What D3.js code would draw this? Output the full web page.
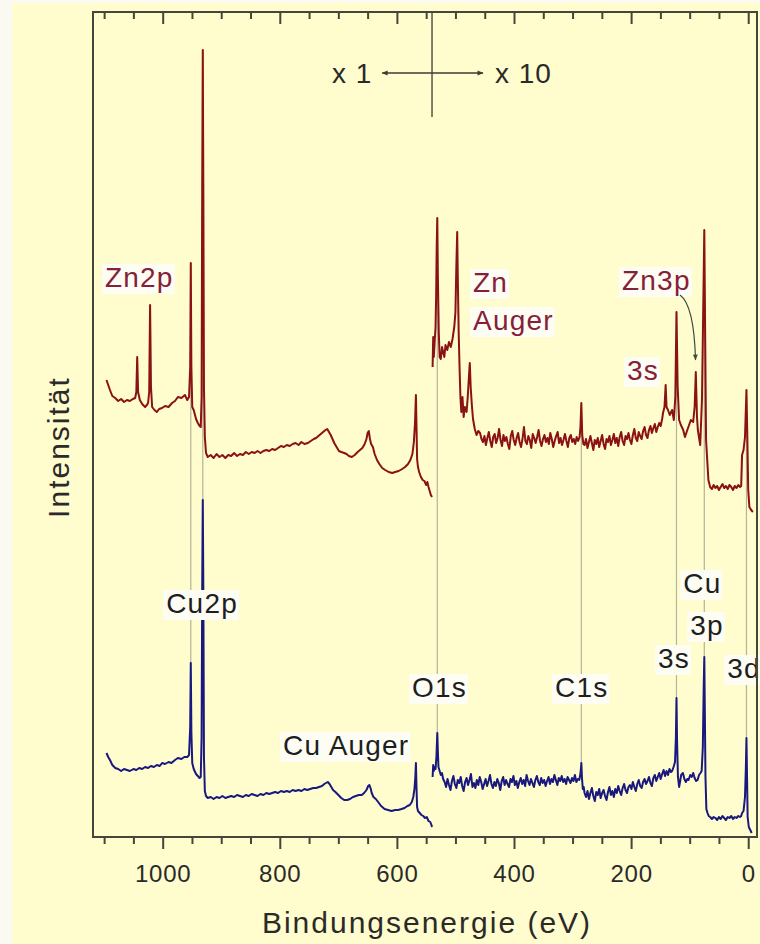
<!DOCTYPE html>
<html><head><meta charset="utf-8">
<script src="https://cdn.jsdelivr.net/npm/d3@7/dist/d3.min.js"></script>
<style>
html,body{margin:0;padding:0;background:#fafaf2;}
svg{display:block;}
text{font-family:"Liberation Sans",Arial,Helvetica,sans-serif;}
</style></head><body>
<svg id="chart" width="760" height="944"></svg>
<script>
// ---------- axis ticks (binding energy, eV) ----------
const majorTicks = [0, 200, 400, 600, 800, 1000];
const minorTicks = [50, 100, 150, 250, 300, 350, 450, 500, 550, 650, 700, 750, 850, 900, 950, 1050, 1100];

// ---------- upper spectrum (Zn containing sample), x1 part: [eV, intensity] ----------
const znX1 = [[1096,457],[1093,452],[1090,447],[1086,441],[1081,439],[1076,436],[1071,438],[1066,435],[1061,437],[1056,436],[1051,438],[1047,439],[1045,445],[1043.5,480],[1042,445],[1039,437],[1035,433],[1030,430],[1027,432],[1025,434],[1023,445],[1021.5,532],[1020,450],[1018,430],[1014,427],[1010,425],[1006,428],[1001,429],[996,431],[990,430],[984,434],[979,436],[974,440],[968,439],[962,442],[958,437],[955,440],[953,470],[952,574],[951,470],[949.5,430],[947,427],[943,418],[940,414],[937,411],[935,410],[933.5,440],[932.5,650],[931.5,787],[930.5,640],[929.5,450],[928,400],[926,384],[923,380],[918,382],[913,379],[908,383],[903,380],[898,382],[893,379],[888,382],[883,381],[878,384],[873,381],[868,383],[863,382],[858,385],[853,383],[848,385],[843,384],[838,386],[833,384],[828,386],[823,387],[818,386],[813,388],[808,387],[803,389],[798,391],[793,390],[788,392],[783,391],[778,393],[773,394],[768,392],[763,395],[758,393],[752,394],[747,396],[742,398],[738,399],[734,401],[730,403],[726,405],[722,407],[719,408],[716,405],[713,402],[710,398],[707,394],[703,390],[699,386],[695,385],[690,384],[686,383],[682,381],[677,380],[672,382],[667,385],[663,387],[659,389],[655,393],[652,398],[650,404],[648,406],[646,398],[644,393],[641,390],[638,383],[634,377],[630,373],[625,369],[620,367],[614,365],[608,364],[603,365],[597,366],[591,368],[586,370],[581,373],[577,377],[573.5,383],[571,395],[569,415],[567.5,442],[566.5,410],[565.5,378],[564,370],[562,365],[559,360],[556,357],[553,356],[550,352],[548,355],[546,350],[544,346],[542,342],[540,340]];

// upper spectrum, x10 part
const znX10Head = [[539,470],[538,500],[537,480],[535.5,495],[534,510],[533,540],[532,590],[531,619],[530,560],[528.5,505],[527,480],[525,478],[523,490],[521,485],[519,480],[517,492],[514,487],[511,495],[508,490],[505,498],[502,510],[500,525],[498.5,570],[497,605],[496,560],[494.5,505],[493,470],[491.5,440],[490,425],[488,440],[486,420],[484,430],[481,425],[479,440],[477,460],[475.5,474],[474,450],[472,432],[470,418],[467,408],[464,402],[461,406]];
const znX10NoiseA = [404,398,395,401,392,399,405,396,390,400, 403,394,399,408,397,391,402,396,400,393, 388,401,406,397,392,399,404,395,390,398, 410,396,393,401,397,389,403,399,394,400, 407,396,391,398,402,395,399,393,404,398, 390,396,401,405,394,399,392,397,403,396, 390,399,402,395,398,393,400];
const znX10C1s = [[290.5,396],[288,400],[286.5,410],[285,434],[283.5,402],[281.5,393]];
const znX10NoiseB = [392,398,389,395,401,394,387,397,393,399, 390,396,402,393,388,398,395,401,392,397, 403,394,399,391,400,405,396,392,401,398, 404,397,393,402,408,399,396,405,401,398, 406,410,402,399,407,411,404,409,413,405, 410,414];
const znX10Tail = [[149.5,411],[147,418],[145.5,424],[143,430],[141,452],[139.5,430],[137,427],[134,422],[130,427],[127,417],[124.5,440],[122.5,525],[120.5,450],[118,417],[115,412],[111,407],[108,400],[104,407],[101,412],[98,417],[94,415],[91.5,430],[89.5,465],[87.5,420],[86,407],[82,392],[79,437],[77,520],[75,607],[73.5,500],[72,397],[68,357],[65,350],[62,348],[59,352],[56,349],[53,351],[50,347],[47,350],[44,353],[41,349],[38,351],[35,348],[32,352],[29,350],[26,347],[23,351],[20,349],[17,352],[14,350],[12,351],[10.5,382],[8,387],[5.5,400],[3,447],[1.5,400],[0,347],[-2,330],[-5,327],[-8,325]];

// ---------- lower spectrum (Cu reference), x1 part ----------
const cuX1 = [[1096,84],[1093,80],[1090,77],[1086,72],[1081,69],[1076,68],[1071,66],[1066,68],[1061,67],[1056,66],[1050,68],[1045,67],[1040,69],[1035,68],[1030,70],[1025,69],[1020,71],[1015,70],[1010,72],[1005,71],[1001,74],[996,73],[990,75],[985,74],[979,77],[974,79],[968,78],[963,80],[958,80],[955,82],[953,110],[952,174],[951,105],[949.5,74],[947,68],[943,63],[940,61],[937,59],[935,60],[933.5,100],[932.5,250],[931.5,337],[930.5,240],[929.5,80],[928,46],[926,41],[923,39],[918,40],[913,38],[908,40],[903,39],[898,41],[893,39],[888,40],[883,41],[878,40],[873,42],[868,41],[863,40],[858,42],[853,41],[848,43],[843,42],[838,41],[833,43],[828,42],[823,44],[818,43],[813,44],[808,45],[803,44],[798,46],[793,45],[788,46],[783,45],[778,47],[773,46],[768,47],[763,46],[758,48],[753,47],[748,48],[743,49],[738,49],[733,50],[728,51],[724,53],[721,54],[718,55],[715,53],[712,50],[709,47],[705,45],[700,42],[695,39],[690,37],[685,37],[680,38],[675,40],[670,41],[665,42],[660,42],[656,44],[652,47],[649,51],[647,52],[645,49],[643,44],[640,40],[636,38],[632,35],[627,31],[621,28],[615,27],[609,26],[603,27],[598,27],[592,28],[587,29],[582,31],[578,32],[574.5,35],[572,40],[570,48],[568.5,60],[567.5,74],[566.5,50],[565.5,30],[564,26],[561,24],[558,22],[555,21],[552,19],[549,20],[546,16],[543,15],[541,12],[540,10]];

// lower spectrum, x10 part
const cuX10Head = [[539,60],[538,72],[537,66],[535.5,70],[534,68],[532.5,80],[531,104],[530,85],[529,70],[527,66],[525,62],[523,64],[521,58]];
const cuX10NoiseA = [55,50,58,52,47,56,61,53,49,57, 54,60,51,46,55,59,52,57,63,50, 54,49,57,52,60,55,48,53,58,51, 56,62,53,49,55,51,58,54,47,56, 60,52,57,53,50,58,55,61,52,56, 49,55,59,53,57,51,62,56,52,58, 54,50,57,61,55,52,59,54,57,51, 56,60,53,58,55,62,57,52,59,56, 61,55,58,53,60,57,54,59,56,62, 55,58];
const cuX10C1s = [[288.5,57],[287,62],[286,66],[285,74],[284,60],[282.5,48],[281,50],[279.5,44]];
const cuX10NoiseB = [40,46,38,44,49,41,36,45,42,48, 39,44,47,41,37,45,50,42,46,40, 48,44,51,46,42,49,53,47,44,50, 52,48,55,50,46,53,57,51,49,55, 58,53,56,60,54,51,59,62,56,60, 64,58,63,67,61,66,62,68,65];
const cuX10Tail = [[130,66],[127.5,70],[125,75],[123.5,100],[122.5,139],[121.5,95],[120,60],[118,50],[116.5,55],[114.5,62],[111.5,64],[109,58],[106.5,55],[104,58],[102,57],[99,62],[96.5,60],[94,64],[91.5,59],[89,56],[86.5,57],[84,62],[81.5,64],[79.5,66],[77.5,90],[76,150],[75,180],[74,120],[73,60],[71.5,28],[69.5,24],[67.5,21],[65,20],[62,18],[59,20],[56,19],[53,17],[50,20],[47,18],[44,21],[41,19],[38,17],[35,20],[32,19],[29,21],[26,18],[23,20],[20,19],[17,21],[14,20],[12,21],[10.5,24],[8,26],[5.5,40],[4,70],[3,99],[2,60],[1,20],[-1,10],[-3.5,7],[-6,4]];

// energies of the noisy stretches: start energy, spacing of the spectrometer grid
const noiseGrid = { znA: [458, 2.5], znB: [279.5, 2.5], cuA: [518.5, 2.5], cuB: [277, 2.5] };

// guide lines linking the same peak in both spectra (eV)
const guideEnergies = [952, 931.5, 531, 285, 122.5, 75, 3];

// peak labels: [text, eV (left edge), intensity (baseline), colour group]
const peakLabels = [
  ["Zn2p", 1098.5, 550, "zn"], ["Zn", 470, 545, "zn"], ["Auger", 470, 507, "zn"],
  ["Zn3p", 215.5, 547, "zn"], ["3s", 207, 457, "zn"],
  ["Cu2p", 994, 224, "cu"], ["Cu Auger", 794.5, 82, "cu"], ["O1s", 574, 140, "cu"],
  ["C1s", 330, 140, "cu"], ["3s", 154, 169, "cu"], ["Cu", 111, 244, "cu"],
  ["3p", 99, 202, "cu"], ["3d", 36, 159, "cu"]
];
// scale change marker: boundary eV, arrow ends eV
const scaleSplit = 540, scaleArrowLeft = 625, scaleArrowRight = 453;

// ---------- drawing ----------
const svg = d3.select("#chart");
const W = 760, H = 944;
const plotL = 93, plotR = 757, plotT = 12, plotB = 837;
const x = d3.scaleLinear().domain([1119, -15]).range([plotL, plotR]);
const y = d3.scaleLinear().domain([0, 825]).range([plotB, plotT]);

const colZn = "#8a1212", colCu = "#18187e", frameCol = "#45463a";

svg.append("rect").attr("x", 12).attr("y", 3).attr("width", W - 12).attr("height", H - 3).attr("fill", "#fffccd");

const defs = svg.append("defs");
function arrowMarker(id, col) {
  defs.append("marker").attr("id", id).attr("viewBox", "0 0 10 10").attr("refX", 9).attr("refY", 5)
    .attr("markerWidth", 7).attr("markerHeight", 6).attr("orient", "auto-start-reverse")
    .attr("markerUnits", "userSpaceOnUse")
    .append("path").attr("d", "M0,1 L10,5 L0,9 Z").attr("fill", col);
}
arrowMarker("arr", "#3d3d36");
arrowMarker("arrG", "#3e4a3e");

const onGrid = (vals, g) => vals.map((v, i) => [g[0] - g[1] * i, v]);
const znTrace10 = [].concat(znX10Head, onGrid(znX10NoiseA, noiseGrid.znA), znX10C1s, onGrid(znX10NoiseB, noiseGrid.znB), znX10Tail);
const cuTrace10 = [].concat(cuX10Head, onGrid(cuX10NoiseA, noiseGrid.cuA), cuX10C1s, onGrid(cuX10NoiseB, noiseGrid.cuB), cuX10Tail);

// guide lines (beneath the traces)
const nearest = (arr, e) => arr.reduce((a, b) => Math.abs(b[0] - e) < Math.abs(a[0] - e) ? b : a);
const znAll = znX1.concat(znTrace10), cuAll = cuX1.concat(cuTrace10);
svg.append("g").selectAll("line").data(guideEnergies).join("line")
  .attr("x1", d => x(d)).attr("x2", d => x(d))
  .attr("y1", d => y(nearest(znAll, d)[1])).attr("y2", d => y(nearest(cuAll, d)[1]))
  .attr("stroke", "#b5b49c").attr("stroke-width", 1.2);

// spectra
const line = d3.line().x(d => x(d[0])).y(d => y(d[1]));
const traces = [[znX1, colZn], [znTrace10, colZn], [cuX1, colCu], [cuTrace10, colCu]];
svg.append("g").selectAll("path").data(traces).join("path")
  .attr("d", d => line(d[0])).attr("fill", "none").attr("stroke", d => d[1])
  .attr("stroke-width", 2).attr("stroke-linejoin", "round");

// labels with light boxes
const lg = svg.append("g");
peakLabels.forEach(([t, e, v, grp]) => {
  const g = lg.append("g");
  const txt = g.append("text").attr("x", x(e)).attr("y", y(v)).text(t)
    .attr("font-size", 28).attr("letter-spacing", 1.2)
    .attr("fill", grp === "zn" ? "#862038" : "#1e1e1e");
  const b = txt.node().getBBox();
  g.insert("rect", "text").attr("x", b.x - 3).attr("y", b.y + 2).attr("width", b.width + 4).attr("height", b.height - 1)
    .attr("fill", "#fdfdf4");
});

// Zn3p arrow
const zp = d3.path();
zp.moveTo(x(116.5), y(542));
zp.quadraticCurveTo(x(92.5), y(532), x(90), y(477));
svg.append("path").attr("d", zp.toString()).attr("fill", "none").attr("stroke", "#3e4a3e")
  .attr("stroke-width", 1.2).attr("marker-end", "url(#arrG)");

// x1 / x10 scale marker
const yArrow = y(764);
svg.append("line").attr("x1", x(scaleSplit)).attr("x2", x(scaleSplit)).attr("y1", plotT).attr("y2", y(720))
  .attr("stroke", "#55554a").attr("stroke-width", 1.5);
svg.append("line").attr("x1", x(scaleSplit)).attr("x2", x(scaleArrowLeft)).attr("y1", yArrow).attr("y2", yArrow)
  .attr("stroke", "#3d3d36").attr("stroke-width", 1.3).attr("marker-end", "url(#arr)");
svg.append("line").attr("x1", x(scaleSplit)).attr("x2", x(scaleArrowRight)).attr("y1", yArrow).attr("y2", yArrow)
  .attr("stroke", "#3d3d36").attr("stroke-width", 1.3).attr("marker-end", "url(#arr)");
svg.append("text").attr("x", x(scaleArrowLeft) - 10).attr("y", yArrow + 10).attr("text-anchor", "end")
  .attr("font-size", 28).attr("letter-spacing", 1).attr("fill", "#2a2a2a").text("x 1");
svg.append("text").attr("x", x(scaleArrowRight) + 12).attr("y", yArrow + 10)
  .attr("font-size", 28).attr("letter-spacing", 1).attr("fill", "#2a2a2a").text("x 10");

// axes: bottom (outward ticks, labelled) and top (inward ticks)
function drawAxis(yPos, withLabels) {
  const gMin = svg.append("g").attr("transform", `translate(0,${yPos})`)
    .call(d3.axisBottom(x).tickValues(minorTicks).tickSize(7).tickFormat(""));
  const gMaj = svg.append("g").attr("transform", `translate(0,${yPos})`)
    .call(d3.axisBottom(x).tickValues(majorTicks).tickSize(12).tickFormat(withLabels ? d3.format("d") : ""));
  [gMin, gMaj].forEach(g => {
    g.select(".domain").remove();
    g.selectAll(".tick line").attr("stroke", frameCol).attr("stroke-width", 2);
  });
  gMaj.selectAll(".tick text").attr("y", 45).attr("dy", 0).attr("font-size", 24)
    .attr("letter-spacing", 0.8).attr("fill", "#2a2a2a").attr("font-family", "Liberation Sans, Arial, sans-serif");
}
drawAxis(plotB, true);
drawAxis(plotT, false);

// frame
svg.append("rect").attr("x", plotL).attr("y", plotT).attr("width", plotR - plotL).attr("height", plotB - plotT)
  .attr("fill", "none").attr("stroke", frameCol).attr("stroke-width", 2);

// axis titles
svg.append("text").attr("x", (262 + 592) / 2).attr("y", 933).attr("text-anchor", "middle")
  .attr("font-size", 30).attr("letter-spacing", 2).attr("fill", "#2a2a2a").text("Bindungsenergie (eV)");
svg.append("text").attr("transform", "translate(69,447) rotate(-90)").attr("text-anchor", "middle")
  .attr("font-size", 30).attr("letter-spacing", 2).attr("fill", "#2a2a2a").text("Intensität");
</script>
</body></html>
